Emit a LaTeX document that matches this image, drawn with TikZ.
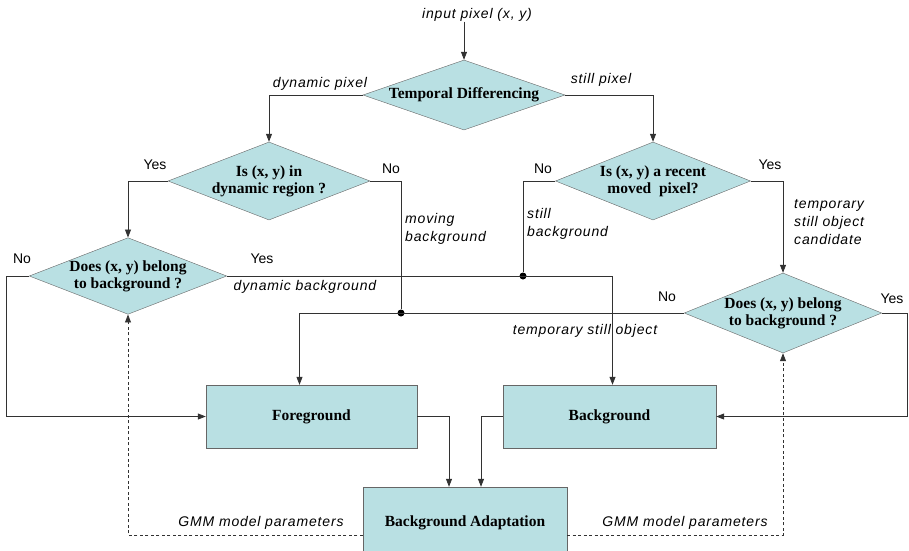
\documentclass[tikz,border=0pt]{standalone}
\usepackage{fontspec}
\setmainfont{Liberation Serif}
\newfontfamily\lblfont[LetterSpace=6]{Liberation Sans}
\newfontfamily\ynfont{Liberation Sans}
\usetikzlibrary{arrows.meta,shapes.geometric}

\definecolor{boxfill}{RGB}{185,224,227}
\definecolor{linegray}{RGB}{50,50,50}

\begin{document}
\begin{tikzpicture}[x=1pt,y=-1pt,
    >={Triangle[length=8pt,width=6pt]},
    decision/.style={diamond,draw=black!60,fill=boxfill,inner sep=0pt,align=center,
        font=\bfseries\fontsize{15.5}{17}\selectfont},
    block/.style={rectangle,draw=black!60,fill=boxfill,minimum height=63pt,
        font=\bfseries\fontsize{15.5}{17}\selectfont},
    lbl/.style={inner sep=0pt,align=left,font=\lblfont\itshape\fontsize{14}{18}\selectfont},
    yn/.style={inner sep=0pt,font=\ynfont\fontsize{14}{16}\selectfont},
    line/.style={draw=linegray,line width=0.8pt},
    flow/.style={line,->},
    param/.style={line,->,dash pattern=on 3pt off 2.5pt},
    junction/.style={circle,fill=black,inner sep=0pt,minimum size=7pt}]
    \useasboundingbox (0,0) rectangle (909,550);

    % decisions
    \node[decision,aspect=2.9,minimum width=202pt,minimum height=70pt] (td) at (464,95) {Temporal Differencing};
    \node[decision,aspect=2.6,minimum width=202pt,minimum height=78pt] (dyn) at (269,181) {Is (x, y) in\\dynamic region ?};
    \node[decision,aspect=2.6,minimum width=195pt,minimum height=78pt] (rec) at (653,181) {Is (x, y) a recent\\moved\ \ pixel?};
    \node[decision,aspect=2.58,minimum width=195pt,minimum height=76pt] (bgl) at (128,276) {Does (x, y) belong\\to background ?};
    \node[decision,aspect=2.58,minimum width=195pt,minimum height=80pt] (bgr) at (783,313) {Does (x, y) belong\\to background ?};

    % results
    \node[block,minimum width=211pt] (fg) at (311.5,416.5) {Foreground};
    \node[block,minimum width=213pt] (bg) at (609.5,416.5) {Background};
    \node[block,minimum width=204pt,minimum height=72pt] (ada) at (465,523) {\raisebox{4pt}{Background Adaptation}};

    \node[junction] (j1) at (401,313) {};
    \node[junction] (j2) at (523,276) {};

    % labels
    \node[lbl] (inp) at (477,15) {input pixel (x, y)};
    \node[lbl] (dynpix) at (320,84) {dynamic pixel};
    \node[lbl] (stillpix) at (601,80) {still pixel};
    \node[lbl,anchor=west] (movbg) at (405,229) {moving\\background};
    \node[lbl,anchor=west] (stillbg) at (527,224) {still\\background};
    \node[lbl,anchor=west] (cand) at (794,222) {temporary\\still object\\candidate};
    \node[lbl] (dynbg) at (305,287) {dynamic background};
    \node[lbl] (tso) at (585,331) {temporary still object};
    \node[lbl] (gmml) at (261,523) {GMM model parameters};
    \node[lbl] (gmmr) at (685,523) {GMM model parameters};

    \node[yn] (yes1) at (155,165) {Yes};
    \node[yn] (no1) at (391,169) {No};
    \node[yn] (no2) at (543,169) {No};
    \node[yn] (yes2) at (770,165) {Yes};
    \node[yn] (no3) at (22,259) {No};
    \node[yn] (yes3) at (262,259) {Yes};
    \node[yn] (no4) at (667,297) {No};
    \node[yn] (yes4) at (892,299) {Yes};

    % connectors
    \draw[flow] (inp.south -| td.north) -- (td.north);
    \draw[flow] (td.west) -| (dyn.north);
    \draw[flow] (td.east) -| (rec.north);
    \draw[flow] (dyn.west) -| (bgl.north);
    \draw[line] (dyn.east) -| (j1);
    \draw[line] (rec.west) -| (j2);
    \draw[flow] (rec.east) -| (bgr.north);
    \draw[flow] (bgl.east) -| ([xshift=3pt]bg.north);
    \draw[flow] (bgr.west) -| ([xshift=-12pt]fg.north);
    \draw[flow] (bgl.west) -- ++(-23,0) |- (fg.west);
    \draw[flow] (bgr.east) -- ++(25,0) |- (bg.east);
    \draw[flow] (fg.east) -| ([xshift=-16pt]ada.north);
    \draw[flow] (bg.west) -| ([xshift=16pt]ada.north);

    % model parameters fed back
    \draw[param] ([yshift=-12pt]ada.west) -| (bgl.south);
    \draw[param] ([yshift=-12pt]ada.east) -| (bgr.south);
\end{tikzpicture}
\end{document}
